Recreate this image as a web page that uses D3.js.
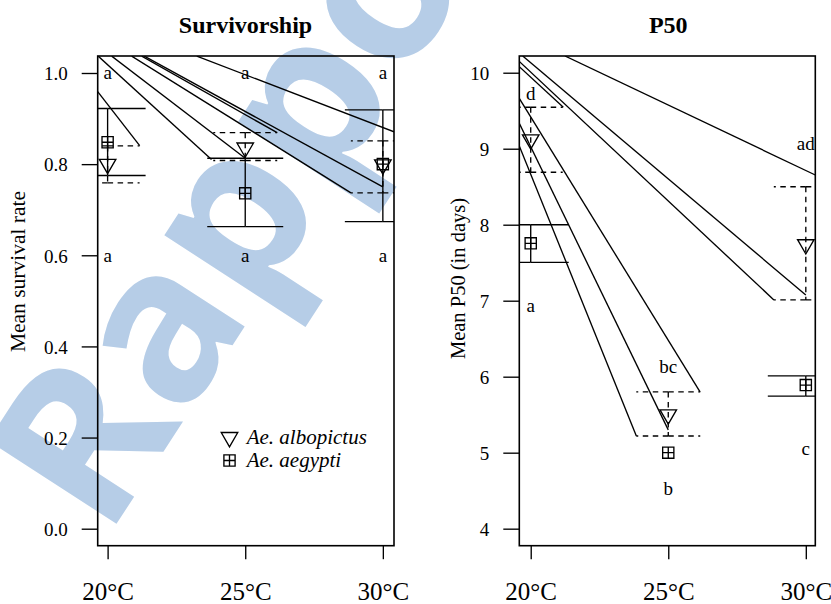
<!DOCTYPE html>
<html><head><meta charset="utf-8">
<script src="https://cdn.jsdelivr.net/npm/d3@7"></script>
<style>body{margin:0;background:#fff}svg{display:block}</style>
</head><body>
<svg id="c" width="831" height="604"></svg>
<script>
// ---------------- data ----------------
const tempLabels = ["20°C", "25°C", "30°C"];
const tempPos = [1, 2, 3];

// Survivorship panel
const survYTicks = [0, 0.2, 0.4, 0.6, 0.8, 1.0];
const survAlbopictusMean  = [0.800, 0.836, 0.799];
const survAlbopictusUpper = [0.840, 0.869, 0.851];
const survAlbopictusLower = [0.759, 0.808, 0.737];
const survAegyptiMean  = [0.848, 0.736, 0.800];
const survAegyptiUpper = [0.922, 0.813, 0.919];
const survAegyptiLower = [0.775, 0.663, 0.674];
const survLetterText = ["a", "a", "a", "a", "a", "a"];
const survLetterX = [1, 2, 3, 1, 2, 3];
const survLetterY = [1.0, 1.0, 1.0, 0.6, 0.6, 0.6];
// stray solid segments [x0, y0, x1, y1] in data units
const survSegments = [
  [0.928, 0.959, 1.233, 0.8405],
  [0.932, 1.037, 1.755, 0.810],
  [1.030, 1.037, 2.000, 0.813],
  [1.248, 1.037, 2.232, 0.869],
  [1.267, 1.037, 3.000, 0.750],
  [1.175, 1.037, 2.768, 0.737],
  [1.648, 1.037, 3.081, 0.871]
];

// P50 panel
const p50YTicks = [4, 5, 6, 7, 8, 9, 10];
const p50AlbopictusMean  = [9.12, 5.50, 7.74];
const p50AlbopictusUpper = [9.545, 5.80, 8.50];
const p50AlbopictusLower = [8.69, 5.22, 7.01];
const p50AegyptiMean  = [7.755, 5.00, 5.89];
const p50AegyptiUpper = [8.00, 5.00, 6.01];
const p50AegyptiLower = [7.505, 5.00, 5.745];
const p50LetterText = ["d", "a", "bc", "b", "ad", "c"];
const p50LetterX = [1, 1, 2, 2, 3, 3];
const p50LetterY = [9.72, 6.94, 6.13, 4.53, 9.07, 5.05];
const p50Segments = [
  [0.917, 10.079, 1.237, 9.545],
  [0.917, 9.663, 2.231, 5.80],
  [0.917, 9.334, 2.000, 5.30],
  [0.917, 9.036, 1.768, 5.22],
  [0.942, 10.22, 3.000, 7.075],
  [0.917, 10.149, 2.768, 7.01],
  [1.249, 10.22, 3.069, 8.654]
];

const legendLabels = ["Ae. albopictus", "Ae. aegypti"];
const watermarkText = "Rapport";

// ---------------- drawing ----------------
const SERIF = "'Liberation Serif','Times New Roman',serif";
const LW = 1.35;
const svg = d3.select("#c");

// watermark
svg.append("text")
  .attr("transform", "translate(106,540) rotate(-57)")
  .attr("font-family", "'Open Sans',sans-serif")
  .attr("font-weight", 700)
  .attr("font-size", 214)
  .attr("fill", "#b6cde7")
  .text(watermarkText);

const defs = svg.append("defs");

function triPath(cx, cy) {
  const hw = 8.25, up = 4.76, dn = 9.5;
  return `M${cx - hw},${cy - up}L${cx + hw},${cy - up}L${cx},${cy + dn}Z`;
}
function sqPath(cx, cy) {
  const h = 5.6;
  return `M${cx - h},${cy - h}H${cx + h}V${cy + h}H${cx - h}Z` +
         `M${cx - h},${cy}H${cx + h}M${cx},${cy - h}V${cy + h}`;
}

function drawPanel(p) {
  const x = d3.scaleLinear().domain(p.xDomain).range([p.left, p.right]);
  const y = d3.scaleLinear().domain(p.yDomain).range([p.bottom, p.top]);

  defs.append("clipPath").attr("id", "clip" + p.id)
    .append("rect").attr("x", p.left).attr("y", p.top)
    .attr("width", p.right - p.left).attr("height", p.bottom - p.top);
  const plot = svg.append("g").attr("clip-path", `url(#clip${p.id})`);

  plot.selectAll("line.seg").data(p.segments).join("line")
    .attr("class", "seg")
    .attr("x1", d => x(d[0])).attr("y1", d => y(d[1]))
    .attr("x2", d => x(d[2])).attr("y2", d => y(d[3]))
    .attr("stroke", "#000").attr("stroke-width", LW);

  function bars(upper, lower, half, dash) {
    tempPos.forEach((t, i) => {
      if (upper[i] === lower[i]) return;
      const cx = x(t);
      const add = (x1, y1, x2, y2) => plot.append("line")
        .attr("x1", x1).attr("y1", y1).attr("x2", x2).attr("y2", y2)
        .attr("stroke", "#000").attr("stroke-width", LW)
        .attr("stroke-dasharray", dash);
      add(cx, y(upper[i]), cx, y(lower[i]));
      [upper[i], lower[i]].forEach(v => {
        add(cx, y(v), cx - half, y(v));
        add(cx, y(v), cx + half, y(v));
      });
    });
  }
  bars(p.aegUpper, p.aegLower, 38, null);
  bars(p.albUpper, p.albLower, 32, "5.5,4.5");

  plot.selectAll("path.tri").data(p.albMean).join("path")
    .attr("class", "tri")
    .attr("d", (d, i) => triPath(x(tempPos[i]), y(d)))
    .attr("fill", "none").attr("stroke", "#000").attr("stroke-width", LW);
  plot.selectAll("path.sq").data(p.aegMean).join("path")
    .attr("class", "sq")
    .attr("d", (d, i) => sqPath(x(tempPos[i]), y(d)))
    .attr("fill", "none").attr("stroke", "#000").attr("stroke-width", LW);

  plot.selectAll("text.let").data(p.letters).join("text")
    .attr("class", "let")
    .attr("x", (d, i) => x(p.letterX[i])).attr("y", (d, i) => y(p.letterY[i]))
    .attr("dy", "0.33em").attr("text-anchor", "middle")
    .attr("font-family", SERIF).attr("font-size", 19).text(d => d);

  svg.append("rect").attr("x", p.left).attr("y", p.top)
    .attr("width", p.right - p.left).attr("height", p.bottom - p.top)
    .attr("fill", "none").attr("stroke", "#000").attr("stroke-width", 1.6);

  const ya = svg.append("g").attr("transform", `translate(${p.left},0)`)
    .call(d3.axisLeft(y).tickValues(p.yTicks).tickFormat(p.yFmt)
      .tickSize(16).tickPadding(14).tickSizeOuter(0));
  ya.select(".domain").remove();
  ya.selectAll("line").attr("stroke", "#000").attr("stroke-width", LW);
  ya.selectAll("text").attr("font-family", SERIF).attr("font-size", 19)
    .attr("fill", "#000").attr("dy", "0.36em");

  const xa = svg.append("g").attr("transform", `translate(0,${p.bottom})`)
    .call(d3.axisBottom(x).tickValues(tempPos).tickFormat((d, i) => tempLabels[i])
      .tickSize(13.5).tickPadding(23).tickSizeOuter(0));
  xa.select(".domain").remove();
  xa.selectAll("line").attr("stroke", "#000").attr("stroke-width", LW);
  xa.selectAll("text").attr("font-family", SERIF).attr("font-size", 25).attr("fill", "#000");

  svg.append("text").attr("x", p.titleX).attr("y", 32.5)
    .attr("text-anchor", "middle").attr("font-family", SERIF)
    .attr("font-weight", "bold").attr("font-size", 24).text(p.title);

  svg.append("text")
    .attr("transform", `translate(${p.ylabX},${p.ylabY}) rotate(-90)`)
    .attr("text-anchor", "middle").attr("font-family", SERIF)
    .attr("font-size", p.ylabSize).text(p.ylab);
}

drawPanel({
  id: 1, left: 97.7, right: 394, top: 56, bottom: 545.7,
  xDomain: [0.928, 3.081], yDomain: [-0.0373, 1.0373],
  yTicks: survYTicks, yFmt: d3.format(".1f"),
  albMean: survAlbopictusMean, albUpper: survAlbopictusUpper, albLower: survAlbopictusLower,
  aegMean: survAegyptiMean, aegUpper: survAegyptiUpper, aegLower: survAegyptiLower,
  letters: survLetterText, letterX: survLetterX, letterY: survLetterY,
  segments: survSegments,
  title: "Survivorship", titleX: 245.5,
  ylab: "Mean survival rate", ylabX: 25, ylabY: 271.5, ylabSize: 21.5
});

drawPanel({
  id: 2, left: 519.3, right: 815.3, top: 56, bottom: 545.7,
  xDomain: [0.917, 3.069], yDomain: [3.776, 10.22],
  yTicks: p50YTicks, yFmt: d3.format("d"),
  albMean: p50AlbopictusMean, albUpper: p50AlbopictusUpper, albLower: p50AlbopictusLower,
  aegMean: p50AegyptiMean, aegUpper: p50AegyptiUpper, aegLower: p50AegyptiLower,
  letters: p50LetterText, letterX: p50LetterX, letterY: p50LetterY,
  segments: p50Segments,
  title: "P50", titleX: 668.3,
  ylab: "Mean P50 (in days)", ylabX: 465, ylabY: 278.5, ylabSize: 20.5
});

const lg = svg.append("g");
const legY = [437.3, 460.5];
lg.append("path").attr("d", triPath(229.5, legY[0]))
  .attr("fill", "none").attr("stroke", "#000").attr("stroke-width", LW);
lg.append("path").attr("d", sqPath(229.5, legY[1]))
  .attr("fill", "none").attr("stroke", "#000").attr("stroke-width", LW);
lg.selectAll("text").data(legendLabels).join("text")
  .attr("x", 246.7).attr("y", (d, i) => legY[i]).attr("dy", "0.33em")
  .attr("font-family", SERIF).attr("font-style", "italic").attr("font-size", 21)
  .text(d => d);
</script>
</body></html>
